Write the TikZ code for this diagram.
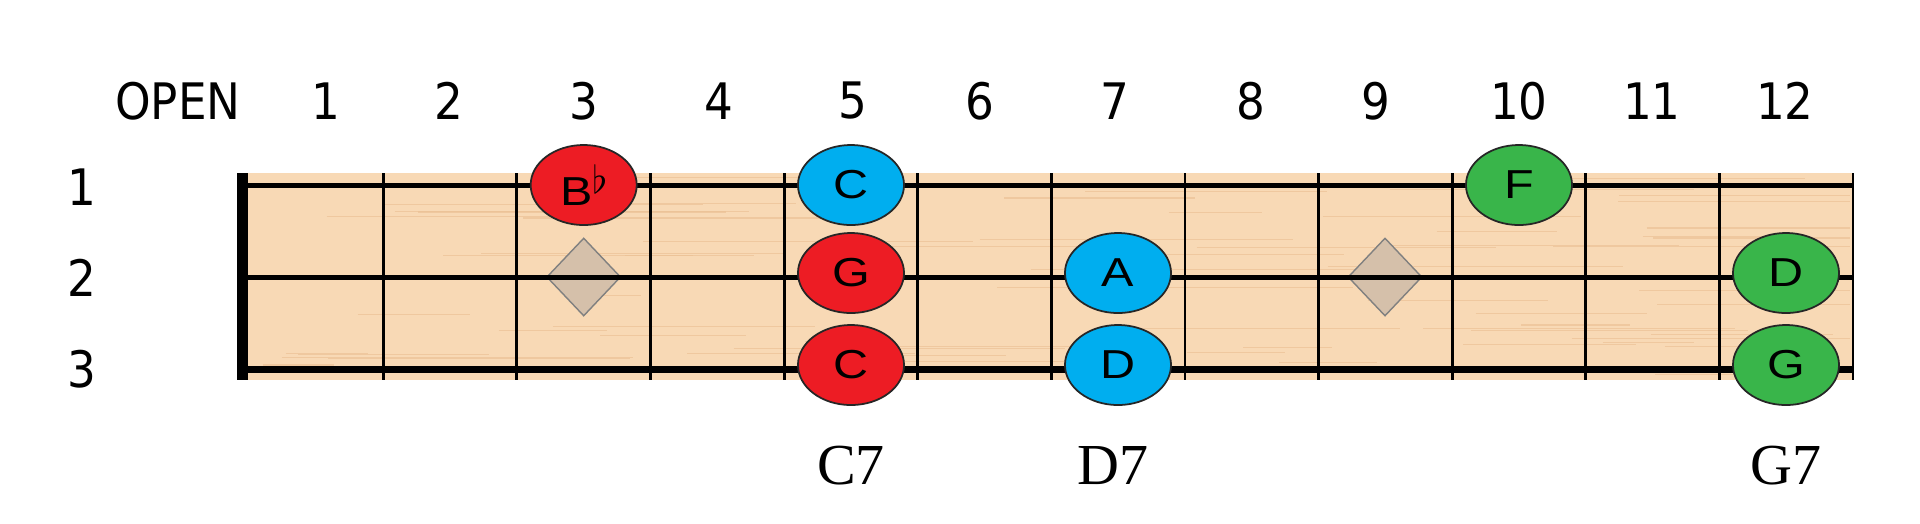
\documentclass[tikz,border=0pt]{standalone}
\usepackage{fontspec}
\setmainfont{Liberation Serif}
\newfontfamily\numfont{DejaVu Sans Condensed}
\newfontfamily\notefont[FakeStretch=1.2]{Liberation Sans}
\newfontfamily\chordfont{Liberation Serif}
\usetikzlibrary{shapes.geometric}
\definecolor{woodBg}{RGB}{248,217,181}
\definecolor{woodGrain}{RGB}{236,194,150}
\definecolor{noteRed}{RGB}{237,28,36}
\definecolor{noteBlue}{RGB}{0,174,239}
\definecolor{noteGreen}{RGB}{57,181,74}
\definecolor{inlayTan}{RGB}{213,192,170}
\begin{document}
\begin{tikzpicture}[x=0.01cm, y=-0.01cm, numStyle/.style={font=\numfont\fontsize{14.3}{16}\selectfont, inner sep=0}, chordStyle/.style={font=\chordfont\fontsize{16.5}{18}\selectfont, inner sep=0}, noteStyle/.style={ellipse, draw=black!85, line width=0.5pt, minimum width=1.06cm, minimum height=0.8cm, inner sep=0, font=\notefont\fontsize{11.5}{13}\selectfont}, inlayStyle/.style={diamond, draw=black!50, line width=0.4pt, fill=inlayTan, minimum width=0.74cm, minimum height=0.78cm, inner sep=0}]
    \useasboundingbox (0,0) rectangle (1920,523);
    \fill[woodBg] (243,173) rectangle (1853,380);
    \pgfmathsetseed{12}
    \foreach \g in {1,...,70}{
        \pgfmathsetmacro\gy{175+203*rnd}
        \pgfmathsetmacro\gx{250+1450*rnd}
        \pgfmathsetmacro\gl{60+300*rnd}
        \draw[woodGrain, line width=0.3pt, opacity=0.7] (\gx,\gy) -- ({min(\gx+\gl,1850)},\gy);
    }
    \foreach \f in {1,...,12}
        \draw[line width=0.8pt] ({383.3+(\f-1)*133.6},173) -- ({383.3+(\f-1)*133.6},380);
    \node[inlayStyle] (inlay3) at (583.7,277) {};
    \node[inlayStyle] (inlay9) at (1385,277) {};
    \draw[line width=1.15pt] (243,185.5) -- (1853,185.5);
    \draw[line width=1.45pt] (243,277.5) -- (1853,277.5);
    \draw[line width=2pt] (243,369) -- (1853,369);
    \draw[line width=3.2pt] (242.5,173) -- (242.5,380);

    \node[numStyle] (open) at (178,101) {OPEN};
    \foreach \n/\px in {1/326, 2/449, 3/584, 4/719, 5/853, 6/980, 7/1115, 8/1251, 9/1376, 10/1519, 11/1652, 12/1785}
        \node[numStyle] (fret\n) at (\px,101) {\n};
    \foreach \s/\sy in {1/187, 2/278, 3/369}
        \node[numStyle] (string\s) at (82,\sy) {\s};

    \node[noteStyle, fill=noteRed] (bflat3) at (583.7,185) {B\raisebox{0.3em}{\fontsize{11}{12}\selectfont$\flat$}};
    \node[noteStyle, fill=noteBlue] (c5) at (851,185) {C};
    \node[noteStyle, fill=noteRed] (g5) at (851,273) {G};
    \node[noteStyle, fill=noteRed] (cc5) at (851,365) {C};
    \node[noteStyle, fill=noteBlue] (a7) at (1118,273) {A};
    \node[noteStyle, fill=noteBlue] (d7) at (1118,365) {D};
    \node[noteStyle, fill=noteGreen] (f10) at (1519,185) {F};
    \node[noteStyle, fill=noteGreen] (d12) at (1786,273) {D};
    \node[noteStyle, fill=noteGreen] (g12) at (1786,365) {G};

    \node[chordStyle] (chordC) at (851,466) {C7};
    \node[chordStyle] (chordD) at (1113,466) {D7};
    \node[chordStyle] (chordG) at (1786,466) {G7};
\end{tikzpicture}
\end{document}
